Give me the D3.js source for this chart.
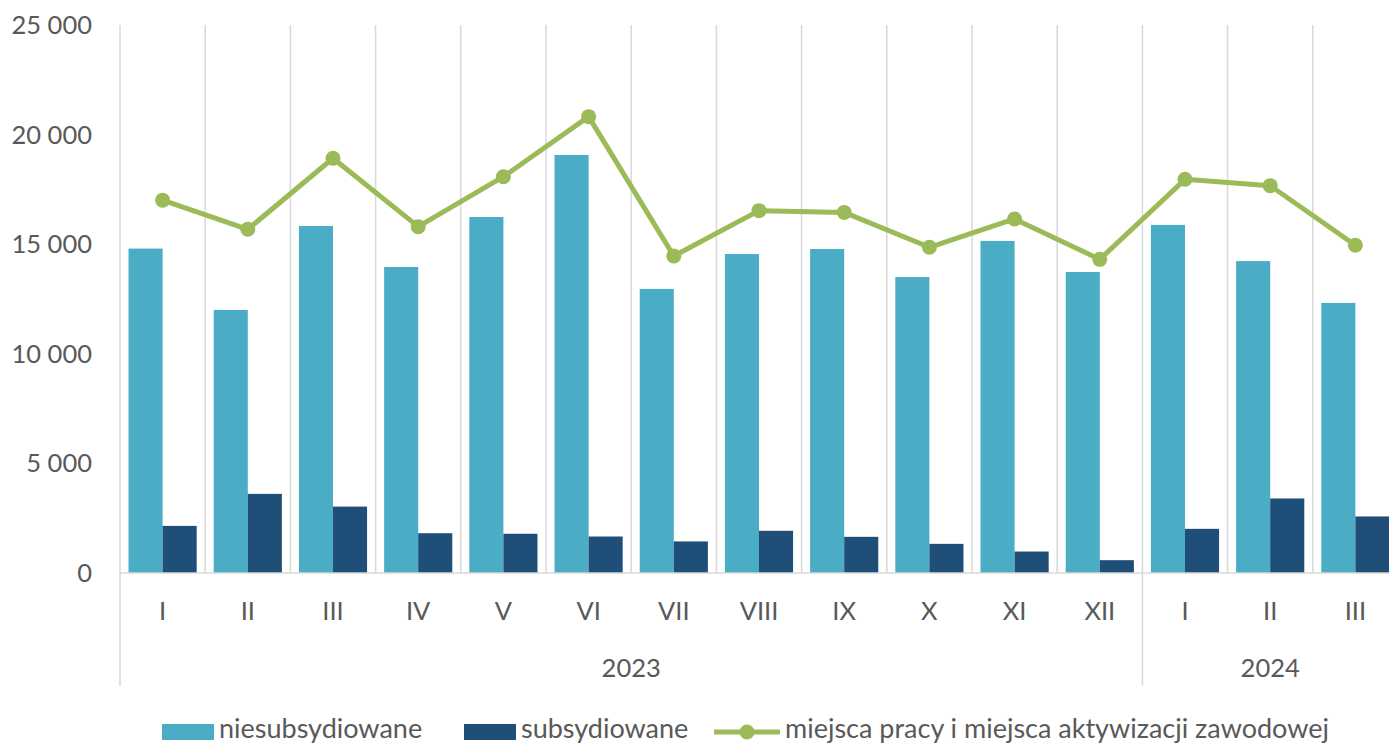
<!DOCTYPE html>
<html>
<head>
<meta charset="utf-8">
<script src="https://cdn.jsdelivr.net/npm/d3@7"></script>
<style>
  html, body { margin: 0; padding: 0; background: #fff; }
  svg { display: block; font-family: Lato, "Open Sans", sans-serif; }
  .lbl { fill: #595959; font-size: 25.5px; }
  .leg { fill: #595959; font-size: 27px; }
</style>
</head>
<body>
<svg id="chart" width="1389" height="747"></svg>
<script>
// --- data ---
const months = ["I", "II", "III", "IV", "V", "VI", "VII", "VIII", "IX", "X", "XI", "XII", "I", "II", "III"];
const years = [
  { label: "2023", count: 12 },
  { label: "2024", count: 3 }
];
const unsubsidized = [14800, 12000, 15830, 13960, 16240, 19070, 12960, 14550, 14780, 13500, 15150, 13730, 15880, 14230, 12320];
const subsidized = [2150, 3610, 3030, 1815, 1790, 1665, 1440, 1925, 1650, 1330, 980, 585, 2015, 3400, 2580];
const totalOffers = [17010, 15680, 18920, 15800, 18080, 20820, 14460, 16530, 16450, 14860, 16150, 14310, 17960, 17670, 14950];
const yTicks = [0, 5000, 10000, 15000, 20000, 25000];
const legendLabels = ["niesubsydiowane", "subsydiowane", "miejsca pracy i miejsca aktywizacji zawodowej"];

const colors = { light: "#4bacc6", dark: "#1f4e79", line: "#9bbb59", grid: "#d9d9d9" };

// --- layout ---
const svg = d3.select("#chart");
const margin = { left: 120, top: 25, bottom: 573 };
const step = 85.2;
const plotRight = margin.left + step * months.length;

const idx = months.map((m, i) => i);
const x = d3.scaleBand().domain(idx).range([margin.left, plotRight]).paddingInner(0).paddingOuter(0);
const xInner = d3.scaleBand().domain(["a", "b"]).range([0, x.bandwidth()]).paddingOuter(0.25);
const y = d3.scaleLinear().domain([0, 25000]).range([margin.bottom, margin.top]);

const fmt = v => d3.format(",")(v).replace(/,/g, " ");

// vertical gridlines between categories
svg.append("g").selectAll("line")
  .data(d3.range(1, months.length + 1))
  .join("line")
  .attr("x1", i => margin.left + i * step).attr("x2", i => margin.left + i * step)
  .attr("y1", y(25000)).attr("y2", y(0))
  .attr("stroke", colors.grid).attr("stroke-width", 1.5);

// y labels
svg.append("g").selectAll("text")
  .data(yTicks)
  .join("text")
  .attr("class", "lbl")
  .attr("x", 92).attr("y", d => y(d))
  .attr("dy", "0.35em")
  .attr("text-anchor", "end")
  .text(fmt);

// bars
const groups = svg.append("g").selectAll("g")
  .data(idx)
  .join("g")
  .attr("transform", i => `translate(${x(i)},0)`);

groups.append("rect")
  .attr("x", xInner("a")).attr("width", xInner.bandwidth())
  .attr("y", i => y(unsubsidized[i])).attr("height", i => y(0) - y(unsubsidized[i]))
  .attr("fill", colors.light);

groups.append("rect")
  .attr("x", xInner("b")).attr("width", xInner.bandwidth())
  .attr("y", i => y(subsidized[i])).attr("height", i => y(0) - y(subsidized[i]))
  .attr("fill", colors.dark);

// axes lines
svg.append("line")
  .attr("x1", margin.left).attr("x2", plotRight)
  .attr("y1", y(0)).attr("y2", y(0))
  .attr("stroke", colors.grid).attr("stroke-width", 1.5);
svg.append("line")
  .attr("x1", margin.left).attr("x2", margin.left)
  .attr("y1", y(25000)).attr("y2", 686)
  .attr("stroke", colors.grid).attr("stroke-width", 1.5);

// line series
const cx = i => x(i) + x.bandwidth() / 2;
svg.append("path")
  .datum(idx)
  .attr("fill", "none")
  .attr("stroke", colors.line)
  .attr("stroke-width", 5)
  .attr("stroke-linejoin", "round")
  .attr("d", d3.line().x(cx).y(i => y(totalOffers[i])));

svg.append("g").selectAll("circle")
  .data(idx)
  .join("circle")
  .attr("cx", cx).attr("cy", i => y(totalOffers[i]))
  .attr("r", 7.5)
  .attr("fill", colors.line);

// month labels
svg.append("g").selectAll("text")
  .data(idx)
  .join("text")
  .attr("class", "lbl")
  .attr("x", cx).attr("y", 611)
  .attr("dy", "0.35em")
  .attr("text-anchor", "middle")
  .text(i => months[i]);

// year labels + separators
let start = 0;
years.forEach((yr, k) => {
  const x0 = margin.left + start * step;
  const x1 = margin.left + (start + yr.count) * step;
  svg.append("text")
    .attr("class", "lbl")
    .attr("x", (x0 + x1) / 2).attr("y", 668)
    .attr("dy", "0.35em")
    .attr("text-anchor", "middle")
    .text(yr.label);
  if (k > 0) {
    svg.append("line")
      .attr("x1", x0).attr("x2", x0)
      .attr("y1", y(0)).attr("y2", 686)
      .attr("stroke", colors.grid).attr("stroke-width", 1.5);
  }
  start += yr.count;
});

// legend
const legend = svg.append("g");
const ly = 732;
const ty = 729;
legend.append("rect").attr("x", 162).attr("y", ly - 8).attr("width", 52).attr("height", 16).attr("fill", colors.light);
legend.append("text").attr("class", "leg").attr("x", 219).attr("y", ty).attr("dy", "0.35em").text(legendLabels[0]);
legend.append("rect").attr("x", 464).attr("y", ly - 8).attr("width", 52).attr("height", 16).attr("fill", colors.dark);
legend.append("text").attr("class", "leg").attr("x", 521).attr("y", ty).attr("dy", "0.35em").text(legendLabels[1]);
legend.append("line").attr("x1", 714).attr("x2", 780).attr("y1", ly).attr("y2", ly)
  .attr("stroke", colors.line).attr("stroke-width", 5);
legend.append("circle").attr("cx", 747).attr("cy", ly).attr("r", 7.5).attr("fill", colors.line);
legend.append("text").attr("class", "leg").attr("x", 785).attr("y", ty).attr("dy", "0.35em").text(legendLabels[2]);
</script>
</body>
</html>
